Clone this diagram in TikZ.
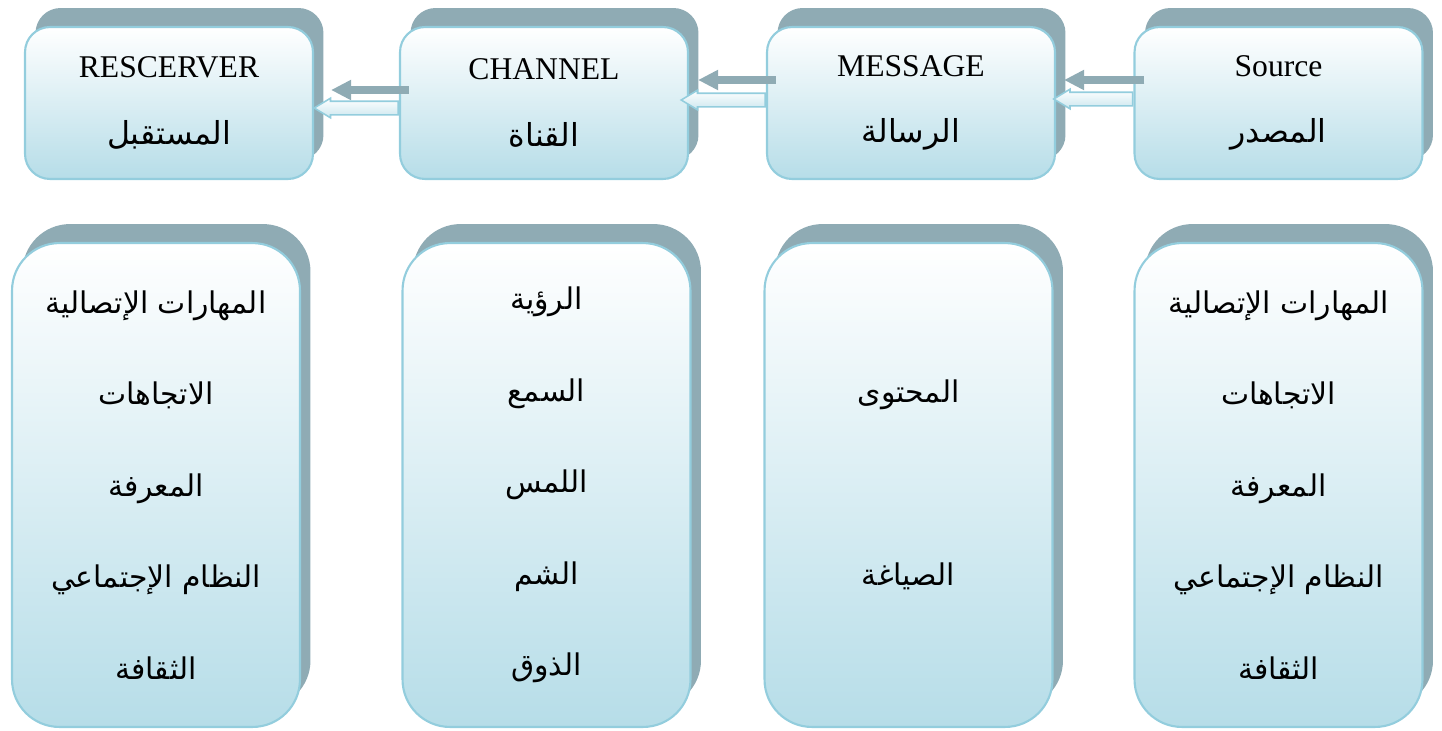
\documentclass[tikz,border=0pt]{standalone}
\usepackage{fontspec}
\setmainfont{Liberation Serif}
\newfontfamily\arabicfont[Script=Arabic]{DejaVu Sans}
\TeXXeTstate=1
\usetikzlibrary{shadows,shapes.arrows,arrows.meta,calc}
\definecolor{boxedge}{HTML}{93CDDD}
\definecolor{boxfill}{HTML}{B6DDE8}
\definecolor{shadowgrey}{HTML}{8FABB4}
\newcommand{\artext}[1]{{\arabicfont\beginR #1\endR}}
\tikzset{
	card/.style={rectangle, draw=boxedge, line width=1.2pt, top color=white, bottom color=boxfill, minimum width=5.76cm, align=center, inner sep=0pt, general shadow={fill=shadowgrey, shadow xshift=0.21cm, shadow yshift=0.38cm}},
	headcard/.style={card, rounded corners=0.5cm, minimum height=3.04cm, font=\fontsize{18}{38}\selectfont},
	listcard/.style={card, rounded corners=0.95cm, minimum height=9.68cm, font=\arabicfont\fontsize{17}{52}\selectfont},
	bararrow/.style={draw=shadowgrey, line width=4.5pt, -{Triangle[width=10.8pt,length=11.4pt]}},
	hollowarrow/.style={single arrow, draw=boxedge, line width=0.9pt, top color=white, bottom color=boxfill!70, shape border rotate=180, single arrow head extend=0.06cm, single arrow tip angle=62, inner xsep=0pt, inner ysep=0.12cm, anchor=tail}
}
\begin{document}
\begin{tikzpicture}[x=0.02cm,y=-0.02cm]
			\useasboundingbox (0,0) rectangle (1442,730);
			%%Top row
			\node[headcard] (rcv) at (169,103) {RESCERVER\\\artext{المستقبل}};
			\node[headcard] (chn) at (544,103) {CHANNEL\\\artext{القناة}};
			\node[headcard] (msg) at (911,103) {MESSAGE\\\artext{الرسالة}};
			\node[headcard] (src) at (1278.5,103) {Source\\\artext{المصدر}};
			%%Lists
			\node[listcard] (rcvlist) at (156,485) {\artext{المهارات الإتصالية}\\\artext{الاتجاهات}\\\artext{المعرفة}\\\artext{النظام الإجتماعي}\\\artext{الثقافة}};
			\node[listcard] (chnlist) at (546.5,485) {\artext{الرؤية}\\\artext{السمع}\\\artext{اللمس}\\\artext{الشم}\\\artext{الذوق}};
			\node[listcard] (msglist) at (908.5,485) {\artext{المحتوى}\\[52pt]\artext{الصياغة}};
			\node[listcard] (srclist) at (1278.5,485) {\artext{المهارات الإتصالية}\\\artext{الاتجاهات}\\\artext{المعرفة}\\\artext{النظام الإجتماعي}\\\artext{الثقافة}};
			%%Arrows
			\draw[bararrow] ($(src.west)+(11,-23)$) -- ($(msg.east)+(8,-23)$);
			\draw[bararrow] ($(msg.west)+(10,-23)$) -- ($(chn.east)+(9,-23)$);
			\draw[bararrow] ($(chn.west)+(10,-13)$) -- ($(rcv.east)+(17,-13)$);
			\node[hollowarrow, minimum height=1.58cm] (srcmsg) at ($(src.west)+(0,-4)$) {};
			\node[hollowarrow, minimum height=1.68cm] (msgchn) at ($(msg.west)+(0,-3)$) {};
			\node[hollowarrow, minimum height=1.68cm] (chnrcv) at ($(chn.west)+(0,5)$) {};
\end{tikzpicture}
\end{document}
